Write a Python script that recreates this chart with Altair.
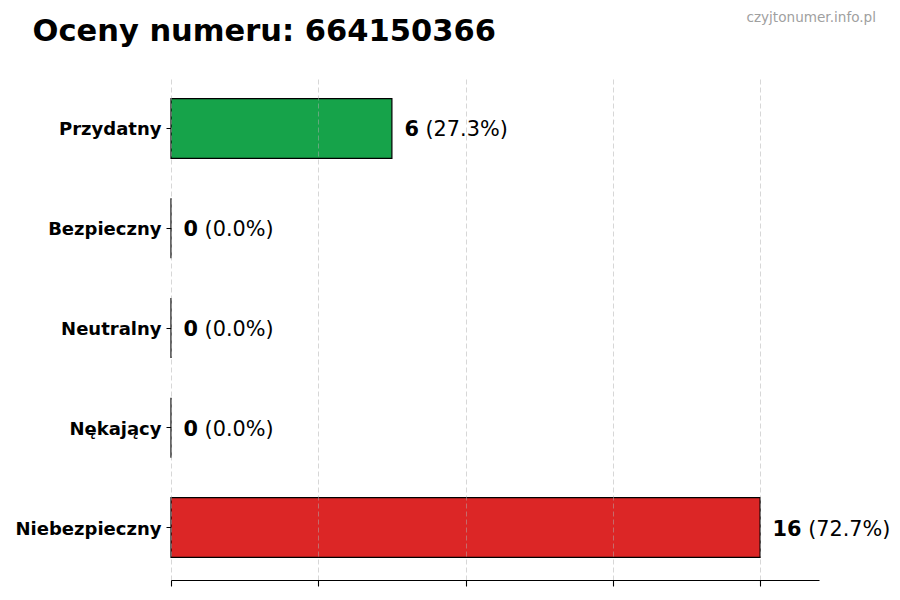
import altair as alt
import pandas as pd

# ---- data ----
categories = ["Przydatny", "Bezpieczny", "Neutralny", "Nękający", "Niebezpieczny"]
counts = [6, 0, 0, 0, 16]
percents = ["27.3%", "0.0%", "0.0%", "0.0%", "72.7%"]
colors = ["#16a34a", "#16a34a", "#9ca3af", "#f97316", "#dc2626"]
x_ticks = [0, 4, 8, 12, 16]
title_text = "Oceny numeru: 664150366"
watermark = "czyjtonumer.info.pl"

X_MAX = 17.6
PLOT_W = 648
PLOT_H = 504
PX_PER_UNIT = PLOT_W / X_MAX
VAL_FS = 20.8

df = pd.DataFrame({
    "category": categories,
    "value": counts,
    "pct": ["(" + p + ")" for p in percents],
    "color": colors,
})
df["vstr"] = df["value"].astype(str)
# position of the percent text: after the bold value and a space (converted from px to data units)
df["pct_pos"] = df["value"] + (12.5 + df["vstr"].str.len() * 0.696 * VAL_FS + 0.318 * VAL_FS) / PX_PER_UNIT

font = "DejaVu Sans"

y_enc = alt.Y(
    "category:N",
    sort=categories,
    scale=alt.Scale(paddingInner=0.4, paddingOuter=0.226),
    axis=alt.Axis(
        title=None, domain=False, ticks=True, tickSize=5, tickColor="black",
        labelFont=font, labelFontWeight="bold", labelFontSize=18,
        labelColor="black", labelPadding=5, labelOffset=2, grid=False,
    ),
)

x_scale = alt.Scale(domain=[0, X_MAX], nice=False, zero=True)

bars = alt.Chart(df).mark_bar(stroke="black", strokeWidth=1.2).encode(
    x=alt.X(
        "value:Q", scale=x_scale,
        axis=alt.Axis(
            title=None, labels=False, values=x_ticks, tickSize=6, tickColor="black",
            domainColor="black", domainWidth=1.1, tickWidth=1.1,
            grid=True, gridColor="#b0b0b0", gridOpacity=0.5, gridDash=[5, 3],
            gridWidth=1, zindex=1,
        ),
    ),
    y=y_enc,
    color=alt.Color("color:N", scale=None),
)

val_text = alt.Chart(df).mark_text(
    align="left", baseline="middle", dx=12.5, dy=2, font=font, fontSize=VAL_FS,
    fontWeight="bold", color="black",
).encode(
    x=alt.X("value:Q", scale=x_scale),
    y=alt.Y("category:N", sort=categories),
    text="vstr:N",
)

pct_text = alt.Chart(df).mark_text(
    align="left", baseline="middle", dy=2, font=font, fontSize=VAL_FS,
    fontWeight="normal", color="black",
).encode(
    x=alt.X("pct_pos:Q", scale=x_scale),
    y=alt.Y("category:N", sort=categories),
    text="pct:N",
)

wm = alt.Chart(alt.Data(values=[{"t": watermark}])).mark_text(
    align="right", baseline="alphabetic", font=font, fontSize=13.6, color="#a0a0a0",
).encode(
    x=alt.value(705),
    y=alt.value(-54),
    text="t:N",
)

title = alt.Chart(alt.Data(values=[{"t": title_text}])).mark_text(
    align="left", baseline="alphabetic", font=font, fontSize=30.5,
    fontWeight="bold", color="black",
).encode(
    x=alt.value(-138.5),
    y=alt.value(-35.5),
    text="t:N",
)

chart = alt.layer(bars, val_text, pct_text, wm, title).properties(
    width=PLOT_W,
    height=PLOT_H,
    background="white",
    autosize=alt.AutoSizeParams(type="none"),
    padding={"left": 163, "top": 68, "right": 73, "bottom": 12},
).configure_view(stroke=None)

chart.save("out.html", embed_options={"renderer": "svg", "actions": False})
